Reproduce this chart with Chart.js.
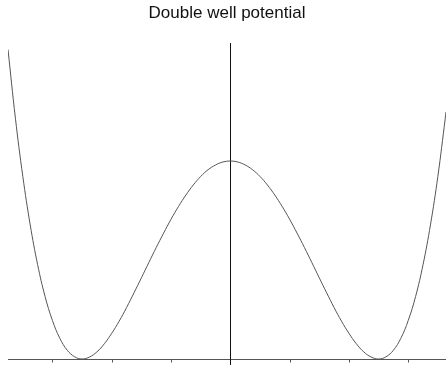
<!DOCTYPE html>
<html>
<head>
<meta charset="utf-8">
<title>Double well potential</title>
<script src="https://cdn.jsdelivr.net/npm/chart.js@4/dist/chart.umd.min.js"></script>
<style>
  html, body { margin: 0; padding: 0; background: #fff; }
  #wrap { width: 446px; height: 365px; }
</style>
</head>
<body>
<div id="wrap"><canvas id="myChart"></canvas></div>
<script>
// sampled positions and potential values
const xValues = [
  -1.5, -1.45, -1.4, -1.35, -1.3, -1.25, -1.2, -1.15, -1.1, -1.05,
  -1.0, -0.95, -0.9, -0.85, -0.8, -0.75, -0.7, -0.65, -0.6, -0.55,
  -0.5, -0.45, -0.4, -0.35, -0.3, -0.25, -0.2, -0.15, -0.1, -0.05,
  0,
  0.05, 0.1, 0.15, 0.2, 0.25, 0.3, 0.35, 0.4, 0.45, 0.5,
  0.55, 0.6, 0.65, 0.7, 0.75, 0.8, 0.85, 0.9, 0.95, 1.0,
  1.05, 1.1, 1.15, 1.2, 1.25, 1.3, 1.35, 1.4, 1.45, 1.455
];
const potential = [
  1.563, 1.216, 0.922, 0.677, 0.476, 0.316, 0.194, 0.104, 0.044, 0.011,
  0, 0.010, 0.036, 0.077, 0.130, 0.191, 0.260, 0.334, 0.410, 0.487,
  0.563, 0.636, 0.706, 0.770, 0.828, 0.879, 0.922, 0.956, 0.980, 0.995,
  1.000,
  0.995, 0.980, 0.956, 0.922, 0.879, 0.828, 0.770, 0.706, 0.636, 0.563,
  0.487, 0.410, 0.334, 0.260, 0.191, 0.130, 0.077, 0.036, 0.010, 0,
  0.011, 0.044, 0.104, 0.194, 0.316, 0.476, 0.677, 0.922, 1.216, 1.248
];
const tickValues = [-1.2, -0.8, -0.4, 0.4, 0.8, 1.2];

const points = xValues.map((x, i) => ({ x: x, y: potential[i] }));

// axes through the origin, drawn from the chart's own scales
const originAxes = {
  id: 'originAxes',
  beforeDatasetsDraw(chart) {
    const { ctx, chartArea, scales } = chart;
    const x0 = Math.round(scales.x.getPixelForValue(0)) + 0.5;
    const y0 = Math.round(scales.y.getPixelForValue(0)) + 0.5;
    ctx.save();
    ctx.lineWidth = 1;
    ctx.strokeStyle = '#555';
    ctx.beginPath();
    ctx.moveTo(chartArea.left, y0);
    ctx.lineTo(chartArea.right, y0);
    tickValues.forEach(v => {
      const px = Math.round(scales.x.getPixelForValue(v)) + 0.5;
      ctx.moveTo(px, y0);
      ctx.lineTo(px, y0 + 3);
    });
    ctx.stroke();
    ctx.strokeStyle = '#111';
    ctx.beginPath();
    ctx.moveTo(x0, chartArea.top);
    ctx.lineTo(x0, chart.height);
    ctx.stroke();
    ctx.restore();
  }
};

new Chart(document.getElementById('myChart'), {
  type: 'scatter',
  data: {
    datasets: [{
      label: 'V(x)',
      data: points,
      showLine: true,
      borderColor: '#555',
      borderWidth: 1,
      pointRadius: 0,
      tension: 0.4,
      fill: false
    }]
  },
  options: {
    responsive: true,
    maintainAspectRatio: false,
    animation: false,
    layout: { padding: { left: 8, right: 0, top: 0, bottom: 6 } },
    scales: {
      x: { type: 'linear', display: false, min: -1.5, max: 1.455 },
      y: { type: 'linear', display: false, min: 0, max: 1.596 }
    },
    plugins: {
      legend: { display: false },
      tooltip: { enabled: false },
      title: {
        display: true,
        text: 'Double well potential',
        color: '#111',
        font: { family: '"Liberation Sans", Arial, sans-serif', size: 17, weight: 'normal' },
        padding: { top: 3, bottom: 19.6 }
      }
    }
  },
  plugins: [originAxes]
});
</script>
</body>
</html>
